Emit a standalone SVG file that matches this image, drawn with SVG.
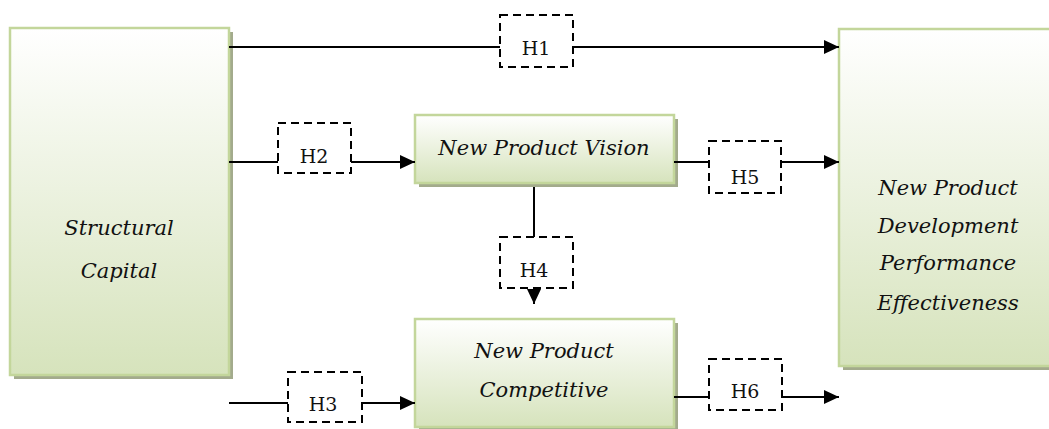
<svg xmlns="http://www.w3.org/2000/svg" width="1049" height="429" viewBox="0 0 1049 429">
  <defs>
    <linearGradient id="boxFill" x1="0" y1="0" x2="0" y2="1">
      <stop offset="0" stop-color="#ffffff"/>
      <stop offset="1" stop-color="#d6e3bc"/>
    </linearGradient>
    <marker id="arrow" markerUnits="userSpaceOnUse" markerWidth="16" markerHeight="14" refX="15" refY="7" orient="auto">
      <path d="M0,0 L15,7 L0,14 z" fill="#000"/>
    </marker>
    <style>
      .shadow { fill: #a3ab8c; }
      .box { fill: url(#boxFill); stroke: #c3d69b; stroke-width: 2.5; }
      .label { font-family: "DejaVu Serif", "Liberation Serif", serif; font-style: italic; font-size: 21px; fill: #111; text-anchor: middle; }
      .hbox { fill: #fff; stroke: #000; stroke-width: 2; stroke-dasharray: 8 5; }
      .htext { font-family: "DejaVu Serif", "Liberation Serif", serif; font-size: 19px; fill: #111; text-anchor: middle; }
      .line { fill: none; stroke: #000; stroke-width: 2; }
    </style>
  </defs>

  <g id="structural-capital">
    <rect class="shadow" x="14" y="32" width="219" height="347"/>
    <rect class="box" x="10" y="28" width="219" height="347"/>
    <text class="label" x="119" y="235">Structural</text>
    <text class="label" x="119" y="278">Capital</text>
  </g>

  <g id="new-product-vision">
    <rect class="shadow" x="419" y="119" width="259" height="68"/>
    <rect class="box" x="415" y="115" width="259" height="68"/>
    <text class="label" x="544" y="155">New Product Vision</text>
  </g>

  <g id="new-product-competitive">
    <rect class="shadow" x="419" y="323" width="259" height="108"/>
    <rect class="box" x="415" y="319" width="259" height="108"/>
    <text class="label" x="544" y="358">New Product</text>
    <text class="label" x="544" y="397">Competitive</text>
  </g>

  <g id="npd-performance">
    <rect class="shadow" x="843" y="33" width="218" height="337"/>
    <rect class="box" x="839" y="29" width="218" height="337"/>
    <text class="label" x="948" y="195">New Product</text>
    <text class="label" x="948" y="233">Development</text>
    <text class="label" x="948" y="270">Performance</text>
    <text class="label" x="948" y="310">Effectiveness</text>
  </g>

  <g id="connectors">
    <!-- H1 -->
    <line class="line" x1="229" y1="47" x2="500" y2="47"/>
    <line class="line" x1="573" y1="47" x2="839" y2="47" marker-end="url(#arrow)"/>
    <!-- H2 -->
    <line class="line" x1="229" y1="162" x2="278" y2="162"/>
    <line class="line" x1="351" y1="162" x2="415" y2="162" marker-end="url(#arrow)"/>
    <!-- H5 -->
    <line class="line" x1="674" y1="162" x2="709" y2="162"/>
    <line class="line" x1="781" y1="162" x2="839" y2="162" marker-end="url(#arrow)"/>
    <!-- H4 -->
    <line class="line" x1="534" y1="187" x2="534" y2="237"/>
    <line class="line" x1="534" y1="288" x2="534" y2="304" marker-end="url(#arrow)"/>
    <!-- H3 -->
    <line class="line" x1="229" y1="403" x2="288" y2="403"/>
    <line class="line" x1="362" y1="403" x2="415" y2="403" marker-end="url(#arrow)"/>
    <!-- H6 -->
    <line class="line" x1="674" y1="397" x2="709" y2="397"/>
    <line class="line" x1="782" y1="397" x2="839" y2="397" marker-end="url(#arrow)"/>
  </g>

  <g id="h1">
    <rect class="hbox" x="500" y="15" width="73" height="52"/>
    <text class="htext" x="536" y="55">H1</text>
  </g>
  <g id="h2">
    <rect class="hbox" x="278" y="123" width="73" height="50"/>
    <text class="htext" x="314" y="163">H2</text>
  </g>
  <g id="h3">
    <rect class="hbox" x="288" y="372" width="74" height="50"/>
    <text class="htext" x="323" y="411">H3</text>
  </g>
  <g id="h4">
    <rect class="hbox" x="500" y="237" width="73" height="51"/>
    <text class="htext" x="534" y="277">H4</text>
  </g>
  <g id="h5">
    <rect class="hbox" x="709" y="141" width="72" height="52"/>
    <text class="htext" x="745" y="184">H5</text>
  </g>
  <g id="h6">
    <rect class="hbox" x="709" y="359" width="73" height="51"/>
    <text class="htext" x="745" y="398">H6</text>
  </g>
</svg>
